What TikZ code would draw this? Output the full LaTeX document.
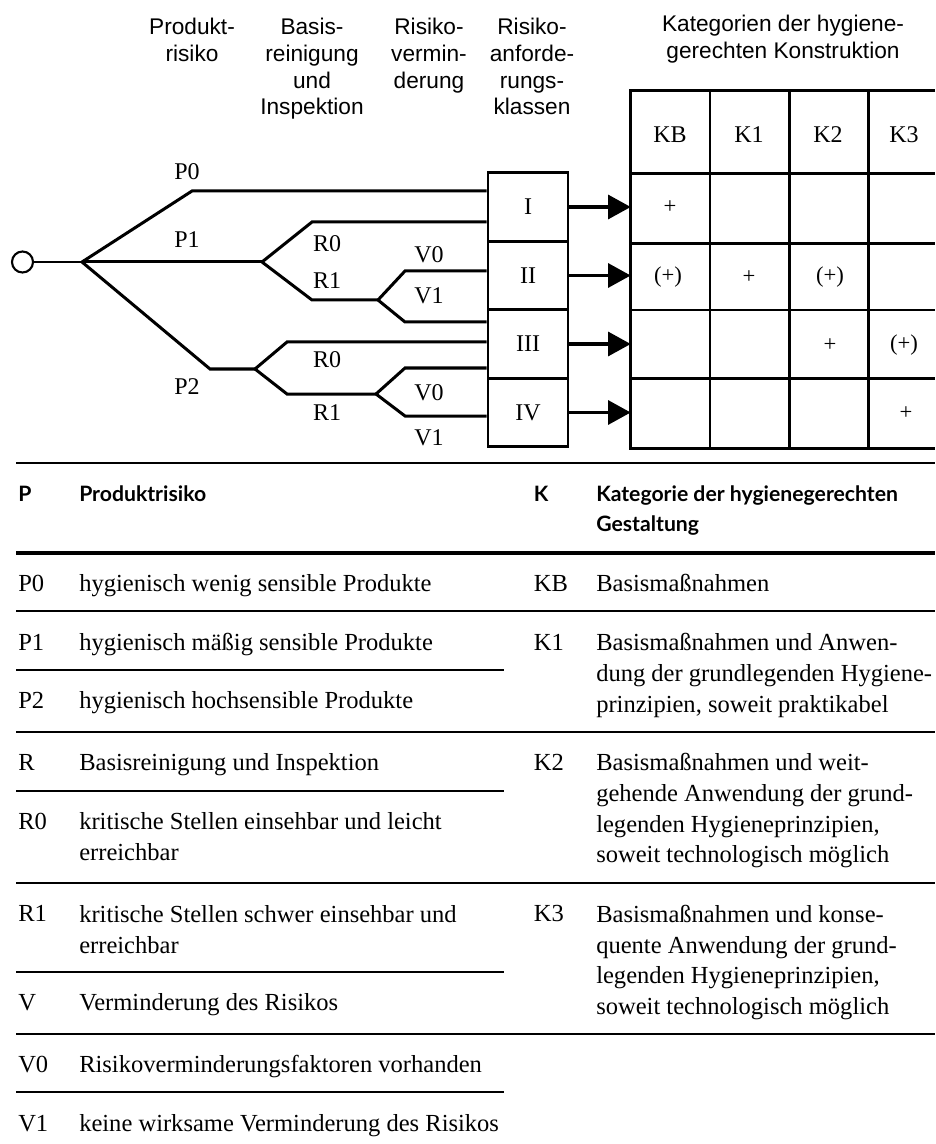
\documentclass[tikz,border=0pt]{standalone}
\usepackage{fontspec}
\setmainfont{Liberation Serif}
\newfontfamily\arialfont{Liberation Sans}
\newfontfamily\latofont{Lato}
\usetikzlibrary{arrows.meta}
\begin{document}
\begin{tikzpicture}[x=0.75pt,y=-0.75pt,
  treeline/.style={line width=2.25pt},
  tbl/.style={line width=2.2pt},
  hd/.style={font=\arialfont\fontsize{17}{20}\selectfont, align=center, anchor=north, inner sep=0pt},
  lab/.style={font=\fontsize{18}{20}\selectfont, inner sep=0pt},
  plus/.style={font=\fontsize{17}{20}\selectfont, inner sep=0pt},
  cls/.style={draw, line width=2pt, minimum width=60pt, minimum height=51.4pt, inner sep=0pt, font=\fontsize{18}{20}\selectfont},
  legh/.style={font=\latofont\bfseries\fontsize{15.9}{22.5}\selectfont, anchor=base west, inner sep=0pt},
  leghm/.style={font=\latofont\bfseries\fontsize{15.9}{22.5}\selectfont, anchor=north west, align=left, inner sep=0pt},
  legt/.style={font=\fontsize{18.4}{23}\selectfont, anchor=base west, inner sep=0pt},
  legtm/.style={font=\fontsize{18.4}{23}\selectfont, anchor=north west, align=left, inner sep=0pt},
  rule/.style={line width=1.5pt},
  thickrule/.style={line width=3pt},
  arr/.style={line width=2.5pt, -{Triangle[length=17pt,width=18pt]}},
]
\useasboundingbox (0,0) rectangle (935,1144);

% ---------- column headings ----------
\node[hd] (hP) at (192,18.3) {Produkt-\\risiko};
\node[hd] (hR) at (312,18.3) {Basis-\\reinigung\\und\\Inspektion};
\node[hd] (hV) at (429,18.3) {Risiko-\\vermin-\\derung};
\node[hd] (hA) at (532,18.3) {Risiko-\\anforde-\\rungs-\\klassen};
\node[hd] (hC) at (783,15) {Kategorien der hygiene-\\gerechten Konstruktion};

% ---------- class boxes ----------
\node[cls] (I)   at (528,207)   {I};
\node[cls] (II)  at (528,275.5) {II};
\node[cls] (III) at (528,344)   {III};
\node[cls] (IV)  at (528,412.5) {IV};

% ---------- tree ----------
\node[circle, draw, line width=1.6pt, minimum size=15.75pt, inner sep=0pt] (start) at (22.5,262) {};
\coordinate (b0) at (82,262);
\coordinate (p0k) at (192,191);
\coordinate (b1) at (262,262);
\coordinate (r0k) at (312,222);
\coordinate (r1k) at (312,300);
\coordinate (c1) at (378,300);
\coordinate (v0k) at (405,271);
\coordinate (v1k) at (405,322);
\coordinate (p2k) at (210,369);
\coordinate (b2) at (255,369);
\coordinate (r0m) at (287,342);
\coordinate (r1m) at (287,394);
\coordinate (c2) at (376,394);
\coordinate (v0m) at (405,368);
\coordinate (v1m) at (405,416);

\draw[line width=1.6pt] (start.east) -- (b0);
\draw[treeline] (b0) -- (p0k) -- (p0k -| I.west);
\draw[treeline] (b0) -- (b1);
\draw[treeline] (b1) -- (r0k) -- (r0k -| I.west);
\draw[treeline] (b1) -- (r1k) -- (c1);
\draw[treeline] (c1) -- (v0k) -- (v0k -| II.west);
\draw[treeline] (c1) -- (v1k) -- (v1k -| III.west);
\draw[treeline] (b0) -- (p2k) -- (b2);
\draw[treeline] (b2) -- (r0m) -- (r0m -| III.west);
\draw[treeline] (b2) -- (r1m) -- (c2);
\draw[treeline] (c2) -- (v0m) -- (v0m -| III.west);
\draw[treeline] (c2) -- (v1m) -- (v1m -| IV.west);

\node[lab] (lP0) at (187,172) {P0};
\node[lab] (lP1) at (187,240) {P1};
\node[lab] (lP2) at (187,387) {P2};
\node[lab] (lR0a) at (327,244) {R0};
\node[lab] (lR1a) at (327,281) {R1};
\node[lab] (lV0a) at (429,255) {V0};
\node[lab] (lV1a) at (429,296) {V1};
\node[lab] (lR0b) at (327,360) {R0};
\node[lab] (lR1b) at (327,413) {R1};
\node[lab] (lV0b) at (429,393) {V0};
\node[lab] (lV1b) at (429,438) {V1};

% ---------- table ----------
\coordinate (tl) at (630.7,90.7);
\draw[tbl] (935,90.7) -- (tl) -- (630.7,448.3) -- (935,448.3);
\draw[tbl] (630.7,173.3) -- (935,173.3);
\draw[tbl] (630.7,243.3) -- (935,243.3);
\draw[tbl] (630.7,310) -- (935,310);
\draw[tbl] (630.7,378.3) -- (935,378.3);
\draw[tbl] (710,90.7) -- (710,448.3);
\draw[tbl] (789.3,90.7) -- (789.3,448.3);
\draw[tbl] (868.3,90.7) -- (868.3,448.3);

\node[lab] (KB) at (670,135) {KB};
\node[lab] (K1) at (749,135) {K1};
\node[lab] (K2) at (828,135) {K2};
\node[lab] (K3) at (904,135) {K3};

\node[plus] (c11) at (670,207) {+};
\node[plus] (c21) at (668,277) {(+)};
\node[plus] (c22) at (749,277) {+};
\node[plus] (c23) at (830,277) {(+)};
\node[plus] (c33) at (830,345) {+};
\node[plus] (c34) at (904,345) {(+)};
\node[plus] (c44) at (906,413) {+};

% ---------- arrows ----------
\draw[arr] (I.east) -- (I.east -| tl);
\draw[arr] (II.east) -- (II.east -| tl);
\draw[arr] (III.east) -- (III.east -| tl);
\draw[arr] (IV.east) -- (IV.east -| tl);

% ---------- legend rules ----------
\draw[rule] (16,462.7) -- (935,462.7);
\draw[thickrule] (16,552.7) -- (935,552.7);
\draw[rule] (16,610.7) -- (935,610.7);
\draw[rule] (16,670) -- (504,670);
\draw[rule] (16,731.7) -- (935,731.7);
\draw[rule] (16,791) -- (504,791);
\draw[rule] (16,882.7) -- (935,882.7);
\draw[rule] (16,971.7) -- (504,971.7);
\draw[rule] (16,1034.3) -- (935,1034.3);
\draw[rule] (16,1092.3) -- (504,1092.3);

% ---------- legend header ----------
\node[legh] (gP) at (18,501) {P};
\node[legh] (gPt) at (79,501) {Produktrisiko};
\node[legh] (gK) at (533.7,501) {K};
\node[leghm] (gKt) at (596,485.6) {Kategorie der hygienegerechten\\Gestaltung};

% ---------- legend entries ----------
\node[legt] (eP0) at (18,591.7) {P0};
\node[legt] (eP0t) at (79,591.7) {hygienisch wenig sensible Produkte};
\node[legt] (eP1) at (18,650) {P1};
\node[legt] (eP1t) at (79,650) {hygienisch mäßig sensible Produkte};
\node[legt] (eP2) at (18,708.3) {P2};
\node[legt] (eP2t) at (79,708.3) {hygienisch hochsensible Produkte};
\node[legt] (eR) at (18,770) {R};
\node[legt] (eRt) at (79,770) {Basisreinigung und Inspektion};
\node[legt] (eR0) at (18,829) {R0};
\node[legtm] (eR0t) at (79,812.4) {kritische Stellen einsehbar und leicht\\erreichbar};
\node[legt] (eR1) at (18,921.7) {R1};
\node[legtm] (eR1t) at (79,905.1) {kritische Stellen schwer einsehbar und\\erreichbar};
\node[legt] (eV) at (18,1010.7) {V};
\node[legt] (eVt) at (79,1010.7) {Verminderung des Risikos};
\node[legt] (eV0) at (18,1072.3) {V0};
\node[legt] (eV0t) at (79,1072.3) {Risikoverminderungsfaktoren vorhanden};
\node[legt] (eV1) at (18,1131) {V1};
\node[legt] (eV1t) at (79,1131) {keine wirksame Verminderung des Risikos};

\node[legt] (eKB) at (533.7,591.7) {KB};
\node[legt] (eKBt) at (596,591.7) {Basismaßnahmen};
\node[legt] (eK1) at (533.7,650) {K1};
\node[legtm] (eK1t) at (596,633.4) {Basismaßnahmen und Anwen-\\dung der grundlegenden Hygiene-\\prinzipien, soweit praktikabel};
\node[legt] (eK2) at (533.7,770) {K2};
\node[legtm] (eK2t) at (596,753.4) {Basismaßnahmen und weit-\\gehende Anwendung der grund-\\legenden Hygieneprinzipien,\\soweit technologisch möglich};
\node[legt] (eK3) at (533.7,921.7) {K3};
\node[legtm] (eK3t) at (596,905.1) {Basismaßnahmen und konse-\\quente Anwendung der grund-\\legenden Hygieneprinzipien,\\soweit technologisch möglich};
\end{tikzpicture}
\end{document}
